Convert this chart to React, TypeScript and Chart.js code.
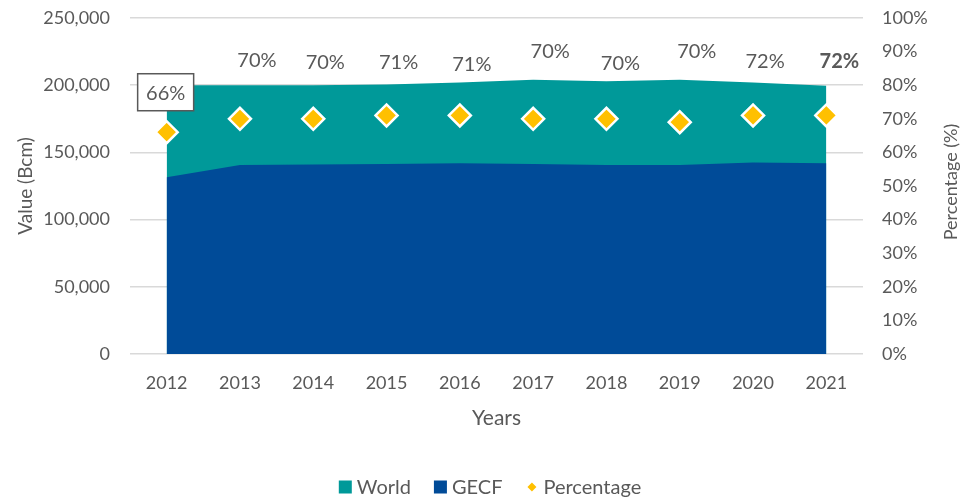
import React, { useEffect, useRef } from 'react';
import { Chart, registerables } from 'chart.js';

Chart.register(...registerables);

const years = ['2012', '2013', '2014', '2015', '2016', '2017', '2018', '2019', '2020', '2021'];
const worldValues = [200000, 200000, 200000, 200500, 202000, 204000, 203000, 204000, 202000, 199500];
const gecfValues = [131500, 140600, 141000, 141400, 142000, 141400, 140600, 140600, 142400, 141900];
const percentageValues = [66, 70, 70, 71, 71, 70, 70, 69, 71, 71];
const percentageLabels = ['66%', '70%', '70%', '71%', '71%', '70%', '70%', '70%', '72%', '72%'];
const leftTickMax = 250000;
const leftTickStep = 50000;
const rightTickMax = 100;
const rightTickStep = 10;

const FONT = 'Lato, "Open Sans", sans-serif';
const TEXT = '#595959';
const TEAL = '#009999';
const BLUE = '#004B98';
const GOLD = '#FFC000';
const GRID = '#D9D9D9';

// style: label offsets (px) from each percentage point
const labelOffsets: [number, number][] = [
  [-1, -40], [17, -59], [12, -57], [12, -54], [12, -52],
  [17, -68], [14, -56], [17, -72], [12, -55], [13, -55],
];

const overlayPlugin = {
  id: 'overlay',
  afterDatasetsDraw(chart: any) {
    const ctx = chart.ctx;
    const meta = chart.getDatasetMeta(2);
    ctx.save();
    ctx.textAlign = 'center';
    ctx.textBaseline = 'middle';
    meta.data.forEach((pt: any, i: number) => {
      const [dx, dy] = labelOffsets[i];
      const x = pt.x + dx;
      const y = pt.y + dy;
      const bold = i === percentageLabels.length - 1;
      ctx.font = `${bold ? 'bold ' : ''}20px ${FONT}`;
      if (i === 0) {
        ctx.fillStyle = '#FFFFFF';
        ctx.fillRect(x - 28, y - 18.5, 56, 37);
        ctx.strokeStyle = TEXT;
        ctx.lineWidth = 1.5;
        ctx.strokeRect(x - 28, y - 18.5, 56, 37);
      }
      ctx.fillStyle = TEXT;
      ctx.fillText(percentageLabels[i], x, y + 1);
    });
    ctx.restore();
  },
  afterDraw(chart: any) {
    const ctx = chart.ctx;
    ctx.save();
    // right axis title
    ctx.font = `18px ${FONT}`;
    ctx.fillStyle = TEXT;
    ctx.textAlign = 'center';
    ctx.textBaseline = 'middle';
    ctx.translate(951, 182);
    ctx.rotate(-Math.PI / 2);
    ctx.fillText('Percentage (%)', 0, 0);
    ctx.restore();

    // legend
    ctx.save();
    ctx.font = `20px ${FONT}`;
    ctx.textBaseline = 'middle';
    ctx.textAlign = 'left';
    const items = [
      { text: 'World', color: TEAL, kind: 'square' },
      { text: 'GECF', color: BLUE, kind: 'square' },
      { text: 'Percentage', color: GOLD, kind: 'diamond' },
    ];
    const box = 13;
    const gapText = 5;
    const gapItem = 23;
    const widths = items.map((it) => box + gapText + ctx.measureText(it.text).width);
    const total = widths.reduce((a, b) => a + b, 0) + gapItem * (items.length - 1);
    let x = 490 - total / 2;
    const cy = 487;
    items.forEach((it, i) => {
      ctx.fillStyle = it.color;
      if (it.kind === 'square') {
        ctx.fillRect(x, cy - box / 2, box, box);
      } else {
        const cx = x + box / 2;
        const r = 4.5;
        ctx.beginPath();
        ctx.moveTo(cx, cy - r);
        ctx.lineTo(cx + r, cy);
        ctx.lineTo(cx, cy + r);
        ctx.lineTo(cx - r, cy);
        ctx.closePath();
        ctx.fill();
      }
      ctx.fillStyle = TEXT;
      ctx.fillText(it.text, x + box + gapText, cy + 1);
      x += widths[i] + gapItem;
    });
    ctx.restore();
  },
};

export default function App() {
  const canvasRef = useRef<HTMLCanvasElement | null>(null);

  useEffect(() => {
    if (!canvasRef.current) return;
    const chart = new Chart(canvasRef.current, {
      type: 'line',
      data: {
        labels: years,
        datasets: [
          {
            label: 'World',
            data: worldValues,
            yAxisID: 'y',
            fill: 'origin',
            backgroundColor: TEAL,
            borderColor: TEAL,
            borderWidth: 0,
            pointRadius: 0,
            tension: 0,
            order: 2,
          },
          {
            label: 'GECF',
            data: gecfValues,
            yAxisID: 'y',
            fill: 'origin',
            backgroundColor: BLUE,
            borderColor: BLUE,
            borderWidth: 0,
            pointRadius: 0,
            tension: 0,
            order: 1,
          },
          {
            label: 'Percentage',
            data: percentageValues,
            yAxisID: 'y1',
            showLine: false,
            fill: false,
            pointStyle: 'rectRot',
            pointRadius: 11,
            pointBackgroundColor: GOLD,
            pointBorderColor: '#FFFFFF',
            pointBorderWidth: 2.5,
            backgroundColor: GOLD,
            borderColor: '#FFFFFF',
            order: 0,
          },
        ],
      },
      options: {
        responsive: false,
        animation: false,
        devicePixelRatio: 1,
        layout: { autoPadding: false, padding: { top: 18, left: 0, right: 0, bottom: 0 } },
        plugins: {
          legend: { display: false },
          tooltip: { enabled: false },
        },
        scales: {
          x: {
            type: 'category',
            offset: true,
            grid: { display: false, drawTicks: false },
            border: { display: false },
            ticks: { color: TEXT, font: { family: FONT, size: 18 }, padding: 18, maxRotation: 0 },
            title: {
              display: true,
              text: 'Years',
              color: TEXT,
              font: { family: FONT, size: 21 },
              padding: { top: 0, bottom: 71 },
            },
            afterFit: (scale: any) => { scale.height = 148; },
          },
          y: {
            type: 'linear',
            position: 'left',
            min: 0,
            max: leftTickMax,
            ticks: {
              stepSize: leftTickStep,
              color: TEXT,
              font: { family: FONT, size: 18 },
              padding: 0,
              callback: (v: any) => Number(v).toLocaleString('en-US'),
            },
            grid: { color: GRID, lineWidth: 1.5, drawTicks: true, tickLength: 20, tickColor: 'rgba(0,0,0,0)' },
            border: { display: false },
            title: {
              display: true,
              text: 'Value (Bcm)',
              color: TEXT,
              font: { family: FONT, size: 19 },
              padding: { top: 14, bottom: 0 },
            },
            afterFit: (scale: any) => { scale.width = 130; },
          },
          y1: {
            type: 'linear',
            position: 'right',
            min: 0,
            max: rightTickMax,
            ticks: {
              stepSize: rightTickStep,
              color: TEXT,
              font: { family: FONT, size: 18 },
              padding: 0,
              callback: (v: any) => `${v}%`,
            },
            grid: { display: false, drawTicks: true, tickLength: 19, tickColor: 'rgba(0,0,0,0)' },
            border: { display: false },
            afterFit: (scale: any) => { scale.width = 99; },
          },
        },
      },
      plugins: [overlayPlugin],
    } as any);
    return () => chart.destroy();
  }, []);

  return (
    <div style={{ position: 'absolute', left: 0, top: 0, width: 962, height: 502, overflow: 'hidden', background: '#FFFFFF' }}>
      <canvas ref={canvasRef} width={962} height={502} style={{ display: 'block' }} />
    </div>
  );
}
